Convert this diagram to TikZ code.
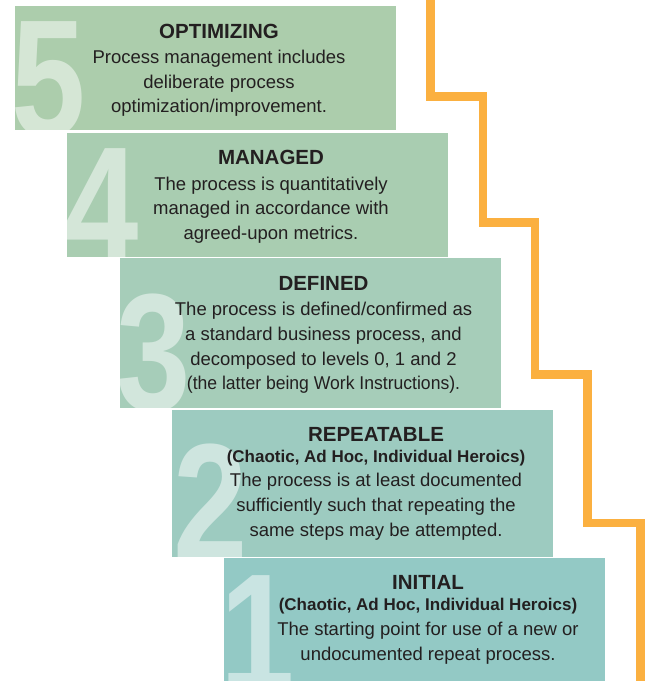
\documentclass[tikz,border=0pt]{standalone}
\usepackage{fontspec}
\setmainfont{Liberation Sans}
\definecolor{orangeline}{RGB}{251,176,64}
\definecolor{cfive}{RGB}{172,205,172}
\definecolor{cfour}{RGB}{169,205,177}
\definecolor{cthree}{RGB}{166,205,185}
\definecolor{ctwo}{RGB}{157,203,192}
\definecolor{cone}{RGB}{147,201,197}
\definecolor{txt}{RGB}{35,31,32}
\begin{document}
\begin{tikzpicture}[x=1pt,y=-1pt,
  stepbox/.style={anchor=north west, inner sep=0pt, outer sep=0pt, draw=none, minimum width=381pt},
  ttl/.style={anchor=base, inner sep=0pt, text=txt, font=\fontsize{20.5}{24}\selectfont\bfseries},
  subttl/.style={anchor=base, inner sep=0pt, text=txt, font=\fontsize{17}{20}\selectfont\bfseries},
  bodytxt/.style={anchor=base, inner sep=0pt, text=txt, font=\fontsize{18.5}{24}\selectfont},
  bignum/.style={anchor=base west, inner sep=0pt, text=white, text opacity=0.5, font=\fontsize{167}{167}\selectfont\bfseries, xscale=0.8}
]
\useasboundingbox (0,0) rectangle (647,681);
% boxes
\node[stepbox, fill=cfive, minimum height=124pt] (b5) at (15,6) {};
\node[stepbox, fill=cfour, minimum height=124pt] (b4) at (67,132.5) {};
\node[stepbox, fill=cthree, minimum height=150.6pt] (b3) at (119.5,257.7) {};
\node[stepbox, fill=ctwo, minimum height=146.7pt] (b2) at (172,410) {};
\node[stepbox, fill=cone, minimum height=130pt] (b1) at (224,558.3) {};
% big digits
\begin{scope}
\clip (b5.north west) rectangle (b5.south east);
\node[bignum] (n5) at (11,136) {5};
\end{scope}
\begin{scope}
\clip (b4.north west) rectangle (b4.south east);
\node[bignum] (n4) at (64.5,263) {4};
\end{scope}
\begin{scope}
\clip (b3.north west) rectangle (b3.south east);
\node[bignum] (n3) at (116.5,410) {3};
\end{scope}
\begin{scope}
\clip (b2.north west) rectangle (b2.south east);
\node[bignum] (n2) at (173,560) {2};
\end{scope}
\begin{scope}
\clip (b1.north west) rectangle (b1.south east);
\node[bignum] (n1) at (220,690) {1};
\end{scope}
% texts box 5
\node[ttl] (t5) at (219,38.5) {OPTIMIZING};
\node[bodytxt] (t5a) at (219,63.5) {Process management includes};
\node[bodytxt] (t5b) at (219,88) {deliberate process};
\node[bodytxt] (t5c) at (219,112.5) {optimization/improvement.};
% box 4
\node[ttl] (t4) at (271,164.5) {MANAGED};
\node[bodytxt] (t4a) at (271,190) {The process is quantitatively};
\node[bodytxt] (t4b) at (271,214.5) {managed in accordance with};
\node[bodytxt] (t4c) at (271,239) {agreed-upon metrics.};
% box 3
\node[ttl] (t3) at (323.5,290) {DEFINED};
\node[bodytxt] (t3a) at (323.5,315) {The process is defined/confirmed as};
\node[bodytxt] (t3b) at (323.5,340) {a standard business process, and};
\node[bodytxt] (t3c) at (323.5,365) {decomposed to levels 0, 1 and 2};
\node[bodytxt, xscale=0.95] (t3d) at (323.5,389.5) {(the latter being Work Instructions).};
% box 2
\node[ttl] (t2) at (376,441.7) {REPEATABLE};
\node[subttl] (t2s) at (376,462.3) {(Chaotic, Ad Hoc, Individual Heroics)};
\node[bodytxt] (t2a) at (376,486.5) {The process is at least documented};
\node[bodytxt] (t2b) at (376,511) {sufficiently such that repeating the};
\node[bodytxt] (t2c) at (376,536) {same steps may be attempted.};
% box 1
\node[ttl] (t1) at (428,589.5) {INITIAL};
\node[subttl] (t1s) at (428,610.7) {(Chaotic, Ad Hoc, Individual Heroics)};
\node[bodytxt] (t1a) at (428,635) {The starting point for use of a new or};
\node[bodytxt] (t1b) at (428,660) {undocumented repeat process.};
% orange staircase
\draw[orangeline, line width=8.5pt, line join=miter]
  (430.5,-6) -- (430.5,96.7) -- (483,96.7) -- (483,222.5) -- (535,222.5)
  -- (535,374.7) -- (587.7,374.7) -- (587.7,523) -- (640.5,523) -- (640.5,690);
\end{tikzpicture}
\end{document}
